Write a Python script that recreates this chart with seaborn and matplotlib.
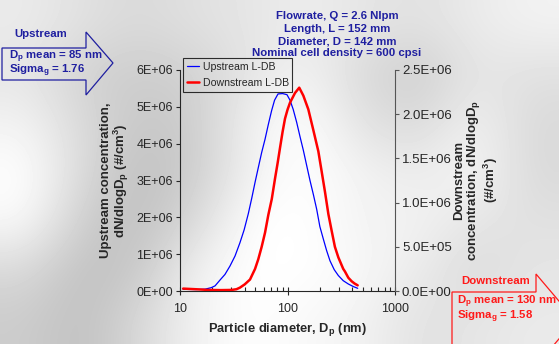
import numpy as np
import pandas as pd
import seaborn as sns
import matplotlib.pyplot as plt
from matplotlib.patches import Polygon
from matplotlib.ticker import LogLocator, NullFormatter, FixedLocator

# -----------------------------
# Data
# -----------------------------
up_dp = [10.7, 14.0, 17.1, 19.5, 21.2, 23.6, 26.2, 29.2, 32.5, 36.1, 39.5,
         43.2, 46.5, 49.9, 53.5, 57.5, 61.8, 66.3, 71.2, 75.8, 81.6, 90.0,
         98.9, 105.5, 113.0, 121.7, 131.0, 140.4, 151.0, 161.9, 174.0,
         186.8, 200.0, 215.0, 231.0, 248.5, 272.0, 297.0, 330.0, 368.0,
         410.0, 449.6]
up_conc = [0.046, 0.04, 0.05, 0.09, 0.14, 0.30, 0.45, 0.68, 0.95, 1.31, 1.66,
           2.10, 2.52, 2.95, 3.35, 3.76, 4.12, 4.52, 4.90, 5.18, 5.35, 5.36,
           5.33, 5.18, 4.93, 4.58, 4.18, 3.82, 3.40, 3.00, 2.62,
           2.22, 1.75, 1.42, 1.10, 0.82, 0.58, 0.42, 0.28, 0.19,
           0.12, 0.073]
up_conc = [v * 1e6 for v in up_conc]

down_dp = [10.7, 14.0, 18.3, 24.0, 30.2, 33.5, 36.1, 40.0, 44.8, 49.9, 53.5,
           57.5, 61.8, 66.3, 71.4, 76.5, 81.0, 85.2, 90.0, 94.8, 100.0,
           105.5, 117.4, 128.6, 140.4, 156.2, 173.9, 193.6, 208.0, 223.3,
           240.0, 257.6, 276.0, 297.2, 330.0, 342.6, 368.0, 395.3, 420.0,
           449.6]
down_conc = [0.027, 0.02, 0.012, 0.01, 0.012, 0.02, 0.038, 0.075, 0.13, 0.25,
             0.36, 0.50, 0.66, 0.86, 1.04, 1.27, 1.45, 1.62, 1.80, 1.95, 2.05,
             2.13, 2.24, 2.30, 2.21, 2.055, 1.82, 1.58, 1.35, 1.12,
             0.87, 0.68, 0.50, 0.38, 0.25, 0.22, 0.15, 0.11, 0.085,
             0.064]
down_conc = [v * 1e6 for v in down_conc]

left_ticks = [0, 1e6, 2e6, 3e6, 4e6, 5e6, 6e6]
left_labels = ["0E+00", "1E+06", "2E+06", "3E+06", "4E+06", "5E+06", "6E+06"]
right_ticks = [0, 0.5e6, 1.0e6, 1.5e6, 2.0e6, 2.5e6]
right_labels = ["0.0E+00", "5.0E+05", "1.0E+06", "1.5E+06", "2.0E+06", "2.5E+06"]

conditions = ["Flowrate, Q = 2.6 Nlpm", "Length, L = 152 mm",
              "Diameter, D = 142 mm", "Nominal cell density = 600 cpsi"]

# blurry grey backdrop (decoration only)
backdrop = np.array([
    [0.92, 0.88, 0.85, 0.88, 0.90, 0.93, 0.90, 0.88, 0.92, 0.95],
    [0.90, 0.82, 0.80, 0.82, 0.90, 0.95, 0.85, 0.80, 0.90, 0.88],
    [0.95, 0.85, 0.78, 0.80, 0.95, 1.00, 0.88, 0.85, 0.95, 0.85],
    [1.00, 0.85, 0.75, 0.80, 0.95, 1.00, 0.95, 0.92, 0.97, 0.85],
    [0.98, 0.80, 0.75, 0.85, 1.00, 1.00, 0.95, 0.95, 0.90, 0.88],
    [0.85, 0.75, 0.78, 0.95, 1.00, 1.00, 0.97, 0.92, 0.85, 0.90],
    [0.80, 0.75, 0.85, 0.95, 1.00, 0.97, 0.95, 0.88, 0.90, 0.92],
])

sns.set_style("ticks")
plt.rcParams["font.family"] = ["Liberation Sans", "DejaVu Sans"]
plt.rcParams["mathtext.fontset"] = "custom"
plt.rcParams["mathtext.rm"] = "Liberation Sans"
plt.rcParams["mathtext.bf"] = "Liberation Sans:bold"
plt.rcParams["mathtext.it"] = "Liberation Sans:italic"

W, H = 559, 344
fig = plt.figure(figsize=(W / 100, H / 100), dpi=100)


def px(x, y):
    return (x / W, 1 - y / H)


bg = fig.add_axes([0, 0, 1, 1], zorder=0)
bg.imshow(backdrop, cmap="gray", vmin=0, vmax=1, interpolation="bicubic",
          aspect="auto", extent=[0, 1, 0, 1])
bg.axis("off")

ax = fig.add_axes([180 / W, 1 - 291 / H, 215 / W, 221 / H], zorder=2)
ax.set_facecolor("none")
ax2 = ax.twinx()

up_df = pd.DataFrame({"dp": up_dp, "conc": up_conc})
down_df = pd.DataFrame({"dp": down_dp, "conc": down_conc})

sns.lineplot(data=up_df, x="dp", y="conc", ax=ax, color="#0000ff",
             linewidth=0.9, legend=False)
sns.lineplot(data=down_df, x="dp", y="conc", ax=ax2, color="#ff0000",
             linewidth=1.8, legend=False)

ax.set_xscale("log")
ax.set_xlim(10, 1000)
ax.set_ylim(0, 6e6)
ax2.set_ylim(0, 2.5e6)

ax.xaxis.set_major_locator(FixedLocator([10, 100, 1000]))
ax.set_xticklabels(["10", "100", "1000"])
ax.xaxis.set_minor_locator(LogLocator(base=10, subs=np.arange(2, 10)))
ax.xaxis.set_minor_formatter(NullFormatter())
ax.tick_params(axis="x", which="major", direction="inout", length=6,
               width=0.8, labelsize=9, pad=6)
ax.tick_params(axis="x", which="minor", direction="in", length=3, width=0.8)

ax.set_yticks(left_ticks)
ax.set_yticklabels(left_labels)
ax.tick_params(axis="y", direction="out", length=3, width=0.8, labelsize=9,
               pad=2)
ax2.set_yticks(right_ticks)
ax2.set_yticklabels(right_labels)
ax2.tick_params(axis="y", direction="out", length=3, width=0.8, labelsize=9.5,
                pad=2, color="#555555")

for a in (ax, ax2):
    for s in a.spines.values():
        s.set_linewidth(0.8)
ax.spines["top"].set_visible(False)
ax.spines["right"].set_visible(False)
ax2.spines["top"].set_visible(False)
ax2.spines["left"].set_visible(False)
ax2.spines["bottom"].set_visible(False)
ax2.spines["right"].set_visible(True)
ax2.spines["right"].set_color("#555555")

ax.set_xlabel(r"Particle diameter, D$_\mathbf{p}$ (nm)", fontsize=9.3,
              fontweight="bold", labelpad=4)
ax.set_ylabel("Upstream concentration,\n" r"dN/dlogD$_\mathbf{p}$ (#/cm$^\mathbf{3}$)",
              fontsize=9.5, fontweight="bold", labelpad=4, linespacing=1.0)
ax2.set_ylabel("Downstream\n" r"concentration, dN/dlogD$_\mathbf{p}$" "\n" r"(#/cm$^\mathbf{3}$)",
               fontsize=9.5, fontweight="bold", labelpad=1, linespacing=1.0,
               rotation=90)

handles = ax.get_lines()[:1] + ax2.get_lines()[:1]
leg = ax.legend(handles, ["Upstream L-DB", "Downstream L-DB"],
                loc="upper left", bbox_to_anchor=(0.014, 1.054), fontsize=7.6,
                frameon=True, fancybox=False, edgecolor="black",
                handlelength=1.2, handletextpad=0.3, borderpad=0.35,
                labelspacing=0.6, borderaxespad=0)
leg.get_frame().set_facecolor("none")
leg.get_frame().set_linewidth(0.8)
leg.set_zorder(5)

navy = "#1f1fa0"
for i, line in enumerate(conditions):
    fig.text(*px(337, 16 + i * 12.5), line, ha="center", va="center",
             fontsize=8.2, fontweight="bold", color=navy)

# upstream arrow
up_arrow = [(2, 48), (86, 48), (86, 32), (113, 63), (86, 95), (86, 80), (2, 80)]
fig.add_artist(Polygon([px(x, y) for x, y in up_arrow], closed=True,
                       fill=False, edgecolor=navy, linewidth=0.9,
                       transform=fig.transFigure))
fig.text(*px(14, 34), "Upstream", fontsize=8.2, fontweight="bold", color=navy,
         va="center")
fig.text(*px(9, 57), r"D$_\mathbf{p}$ mean = 85 nm", fontsize=8.2,
         fontweight="bold", color=navy, va="center")
fig.text(*px(9, 71), r"Sigma$_\mathbf{g}$ = 1.76", fontsize=8.2,
         fontweight="bold", color=navy, va="center")

# downstream arrow
red = "#ff1a1a"
dn_arrow = [(452, 360), (452, 292), (536, 292), (536, 274), (575, 320),
            (536, 366)]
fig.add_artist(Polygon([px(x, y) for x, y in dn_arrow], closed=False,
                       fill=False, edgecolor=red, linewidth=0.9,
                       transform=fig.transFigure))
fig.text(*px(461, 281), "Downstream", fontsize=8.2, fontweight="bold",
         color=red, va="center")
fig.text(*px(457, 302), r"D$_\mathbf{p}$ mean = 130 nm", fontsize=8.2,
         fontweight="bold", color=red, va="center")
fig.text(*px(457, 317), r"Sigma$_\mathbf{g}$ = 1.58", fontsize=8.2,
         fontweight="bold", color=red, va="center")

fig.savefig("out.png", dpi=100)
